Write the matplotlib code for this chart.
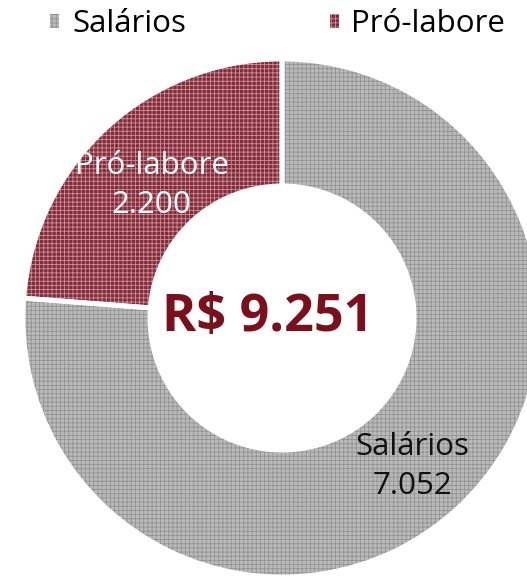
import matplotlib.pyplot as plt
from matplotlib.patches import Patch, Wedge

# Datos
categorias = ["Salários", "Pró-labore"]
valores = [7052, 2200]
valores_txt = ["7.052", "2.200"]
total_txt = "R$ 9.251"

# Estilos
colores = ["#bababa", "#86293a"]
colores_trama = ["#939393", "#c4939a"]
colores_texto = ["#111111", "white"]
fuente = "Open Sans"

plt.rcParams["font.family"] = [fuente, "DejaVu Sans"]
plt.rcParams["hatch.linewidth"] = 0.6

W, H = 527, 577
fig = plt.figure(figsize=(W / 100, H / 100), dpi=100)

# centro del anillo en pixeles (282, 318), radio 259
cx, cy, r = 282, 318, 259
ax = fig.add_axes([(cx - r) / W, (H - cy - r) / H, 2 * r / W, 2 * r / H])

etiquetas = [f"{c}\n{v}" for c, v in zip(categorias, valores_txt)]
wedges, textos = ax.pie(valores, labels=etiquetas, colors=colores,
                        startangle=90, counterclock=False, radius=1.0,
                        labeldistance=0.74,
                        wedgeprops=dict(width=0.49, linewidth=0))
ax.set_xlim(-1, 1)
ax.set_ylim(-1, 1)
ax.set_aspect("equal")
ax.axis("off")

# trama y separacion blanca
for w, ct in zip(wedges, colores_trama):
    tr = Wedge(w.center, w.r, w.theta1, w.theta2, width=w.width,
               facecolor="none", edgecolor=ct, hatch="++++", linewidth=0,
               zorder=1.5)
    ax.add_patch(tr)
    borde = Wedge(w.center, w.r, w.theta1, w.theta2, width=w.width,
                  facecolor="none", edgecolor="white", linewidth=3.5,
                  zorder=1.6)
    ax.add_patch(borde)

for t, c in zip(textos, colores_texto):
    x, y = t.get_position()
    t.set_position((x, y - 0.03))
    t.set_ha("center")
    t.set_va("center")
    t.set_color(c)
    t.set_fontsize(22.5)
    t.set_linespacing(1.38)
    t.set_zorder(5)
    t.set_clip_on(False)

ax.text(-0.055, 0.0, total_txt, ha="center", va="center", fontsize=37.5,
        fontweight="bold", color="#7b0f1b", zorder=5)

# leyenda
handles = [Patch(facecolor=c, edgecolor=ct, hatch="++++", linewidth=0)
           for c, ct in zip(colores, colores_trama)]
fig.legend(handles, categorias, loc="center", bbox_to_anchor=(0.527, 1 - 24 / H),
           ncol=2, frameon=False, fontsize=22.5, handlelength=0.3,
           handleheight=0.3, handletextpad=0.4, columnspacing=4.6)

fig.savefig("out.png", dpi=100)
